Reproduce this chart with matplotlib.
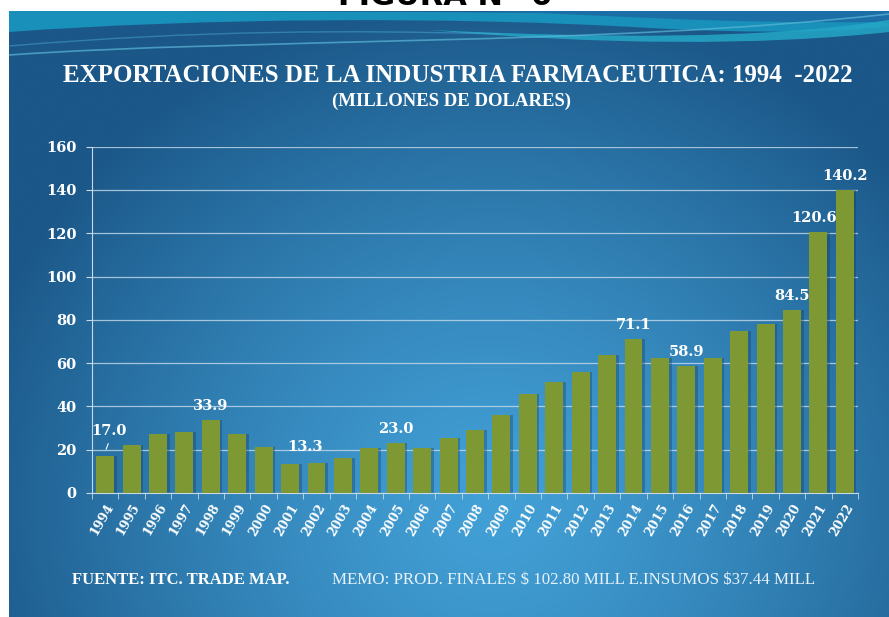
import numpy as np
import matplotlib.pyplot as plt
from matplotlib.path import Path
from matplotlib.patches import PathPatch
from matplotlib.colors import to_rgb

# ── DATA ───────────────────────────────────────────────────────
years = [str(y) for y in range(1994, 2023)]
exports = [17.0, 22.0, 27.4, 28.4, 33.9, 27.4, 21.2, 13.3, 13.8, 16.4,
           20.6, 23.0, 20.6, 25.2, 29.2, 36.0, 45.7, 51.1, 55.7, 63.7,
           71.1, 62.3, 58.9, 62.3, 74.9, 78.1, 84.5, 120.6, 140.2]
labelled_years = ["1994", "1998", "2001", "2005", "2014", "2016",
                  "2020", "2021", "2022"]
y_ticks = [0, 20, 40, 60, 80, 100, 120, 140, 160]

title = "EXPORTACIONES DE LA INDUSTRIA FARMACEUTICA: 1994  -2022"
subtitle = "(MILLONES DE DOLARES)"
source = "FUENTE: ITC. TRADE MAP."
memo = r"MEMO: PROD. FINALES \$ 102.80 MILL E.INSUMOS \$37.44 MILL"

# label offsets in points (x, y) - placement only
label_offset = {"1994": (3, 13), "2001": (11, 7), "2021": (-3, 5)}

# ── STYLE ──────────────────────────────────────────────────────
W, H = 889, 617
BAR = "#7e9833"
SERIF = "Liberation Serif"
NUM = "DejaVu Serif"

fig = plt.figure(figsize=(W / 100, H / 100), dpi=100)
fig.patch.set_facecolor("white")

# background slide (pixel coordinates)
bg = fig.add_axes([0, 0, 1, 1], zorder=0)
bg.set_xlim(0, W)
bg.set_ylim(H, 0)
bg.axis("off")

# figure heading, mostly hidden above the slide as in the original
bg.text(445, 5, "FIGURA Nº 6", ha="center", va="baseline", fontsize=22,
        fontweight="bold", color="black", family="DejaVu Sans", zorder=0)

gx, gy = np.meshgrid(np.linspace(0, 1, 300), np.linspace(0, 1, 220))
d = np.sqrt(((gx - 0.55) / 0.62) ** 2 + ((gy - 0.82) / 0.85) ** 2)
d = np.clip(d, 0, 1) ** 1.3
light = np.array(to_rgb("#42a0d6"))
dark = np.array(to_rgb("#1b5788"))
grad = light[None, None, :] * (1 - d[..., None]) + dark[None, None, :] * d[..., None]
bg.imshow(grad, extent=(9, W, H, 11), aspect="auto", interpolation="bicubic",
          zorder=1)

# top swooshes
def swoosh(verts, color, alpha=1.0, lw=0, fill=True):
    codes = [Path.MOVETO] + [Path.CURVE4] * (len(verts) - 1)
    p = PathPatch(Path(verts, codes), facecolor=color if fill else "none",
                  edgecolor=color, lw=lw, alpha=alpha, zorder=2)
    bg.add_patch(p)

# teal band upper left / middle
swoosh([(9, 11), (9, 11), (9, 11), (9, 11),
        (9, 11), (9, 11), (9, 32),
        (200, 18), (450, 16), (650, 28),
        (760, 34), (850, 32), (889, 26),
        (889, 20), (889, 11), (9, 11)], "#1890b9")
# darker top right
swoosh([(480, 11), (600, 14), (700, 24), (889, 22),
        (889, 18), (889, 14), (889, 11),
        (700, 11), (600, 11), (480, 11)], "#1c6ea6")
# light teal band right
swoosh([(430, 30), (600, 38), (760, 40), (889, 20),
        (889, 25), (889, 29), (889, 32),
        (760, 46), (600, 45), (430, 30)], "#24a7c6", alpha=0.85)
# thin light lines
swoosh([(9, 55), (250, 38), (600, 46), (889, 14)], "#5bb8d8",
       alpha=0.7, lw=1.2, fill=False)
swoosh([(9, 46), (200, 30), (350, 30), (500, 34)], "#4aa8d0",
       alpha=0.5, lw=1.0, fill=False)

# titles and footer
bg.text(458, 75, title, ha="center", va="center", fontsize=18,
        fontweight="bold", color="white", family=SERIF, zorder=3)
bg.text(452, 101, subtitle, ha="center", va="center", fontsize=13.5,
        fontweight="bold", color="white", family=SERIF, zorder=3)
bg.text(72, 580, source, ha="left", va="center", fontsize=12,
        fontweight="bold", color="white", family=SERIF, zorder=3)
bg.text(332, 580, memo, ha="left", va="center", fontsize=12.2,
        color="#e8f2fa", family=SERIF, zorder=3)

# ── CHART ──────────────────────────────────────────────────────
ax = fig.add_axes([92 / W, 124 / H, (858 - 92) / W, (493 - 146.7) / H], zorder=1)
ax.patch.set_alpha(0)

x = np.arange(len(years))
# soft shadow behind bars
ax.bar(x + 0.1, exports, width=0.68, color="#123a5c", alpha=0.35, zorder=2)
ax.bar(x, exports, width=0.68, color=BAR, zorder=3)

ax.set_xlim(-0.5, len(years) - 0.5)
ax.set_ylim(0, 160)
ax.set_yticks(y_ticks)
ax.set_yticklabels([str(v) for v in y_ticks], family=NUM, fontweight="bold",
                   fontsize=10.5, color="white")
ax.set_xticks(x)
ax.set_xticklabels(years, rotation=60, ha="right", rotation_mode="anchor",
                   family=NUM, fontweight="bold", fontsize=9, color="white")
ax.set_xticks(np.arange(-0.5, len(years)), minor=True)
ax.tick_params(axis="x", which="major", length=0, pad=6)
ax.tick_params(axis="x", which="minor", length=4, color="#c9d9e6")
ax.tick_params(axis="y", length=4, color="#c9d9e6", pad=7)

ax.yaxis.grid(True, color="#c6dbea", linewidth=0.9, alpha=0.8, zorder=1)
ax.set_axisbelow(True)
for s in ["top", "right"]:
    ax.spines[s].set_visible(False)
ax.spines["left"].set_color("#c9d9e6")
ax.spines["bottom"].set_color("#c9d9e6")

for yr in labelled_years:
    i = years.index(yr)
    v = exports[i]
    dx, dy = label_offset.get(yr, (0, 5))
    ax.annotate(f"{v:.1f}", (i, v), xytext=(dx, dy), textcoords="offset points",
                ha="center", va="bottom", fontsize=10.5, fontweight="bold",
                color="white", family=NUM, zorder=5)
    if yr == "1994":
        ax.annotate("", (i, v + 2), xytext=(i + 0.15, v + 7),
                    arrowprops=dict(arrowstyle="-", color="white", lw=0.8))

fig.savefig("out.png", dpi=100)
